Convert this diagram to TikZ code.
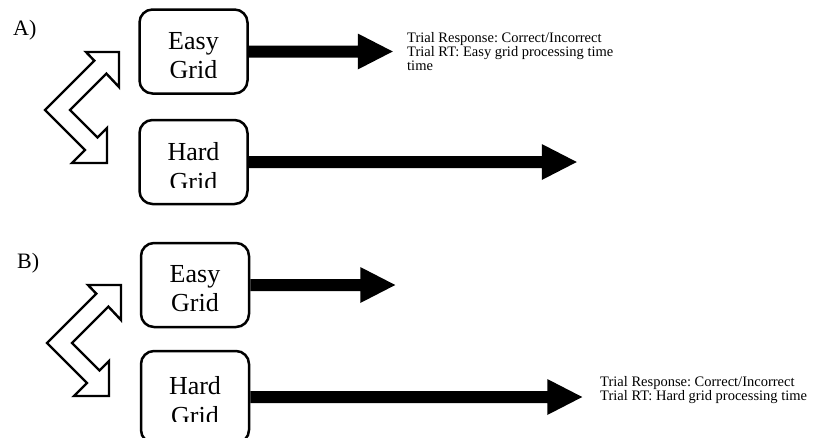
\documentclass[tikz,border=0pt]{standalone}
\usepackage{fontspec}
\setmainfont{Liberation Serif}
\frenchspacing
\usetikzlibrary{calc}

\tikzset{
  gridbox/.style={draw, line width=2.5pt, rounded corners=13pt,
    minimum width=108pt, minimum height=84pt, inner sep=0pt},
  gridtext/.style={anchor=north, inner sep=0pt, align=center,
    font=\fontsize{26}{29.5}\selectfont},
  outcome/.style={anchor=north west, inner sep=0pt, align=left,
    font=\fontsize{14.5}{14}\selectfont},
  panel/.style={anchor=base west, inner sep=0pt,
    font=\fontsize{22}{26}\selectfont},
  switcharrow/.style={draw, line width=2.4pt, fill=white, line join=miter},
}

% thick block arrow from a box anchor to a tip coordinate
\newcommand\fatarrow[2]{%
  \fill ($(#1)+(0,-6)$) -- ($(#2)+(-35,-6)$) -- ($(#2)+(-35,-18)$) -- (#2)
    -- ($(#2)+(-35,18)$) -- ($(#2)+(-35,6)$) -- ($(#1)+(0,6)$) -- cycle;}

% zig-zag double arrow (switch between the two grids)
\newcommand\switchshape{%
  \draw[switcharrow] (86,52) -- (119,52) -- (119,87) -- (106.4,73.6)
    -- (70,110) -- (97.5,137.5) -- (107,128) -- (107,163) -- (72,163)
    -- (85,150) -- (45,110) -- (94.3,60.7) -- cycle;}

\begin{document}
\begin{tikzpicture}[x=1pt, y=-1pt]
\useasboundingbox (0,0) rectangle (813,437);
\clip (0,0) rectangle (813,437);

% ---------------- panel A ----------------
\node[panel] (labA) at (13,35) {A)};
\switchshape

\node[gridbox] (easyA) at (193.5,51.5) {};
\node[gridbox] (hardA) at (193.5,162) {};

% box labels overflow their text area and are cut off at its lower edge
\begin{scope}
  \clip (easyA.north west) rectangle ($(easyA.north east)+(0,69)$);
  \node[gridtext] (easyAtext) at ($(easyA.north)+(0,24)$) {Easy\\Grid};
\end{scope}
\begin{scope}
  \clip (hardA.north west) rectangle ($(hardA.north east)+(0,69)$);
  \node[gridtext] (hardAtext) at ($(hardA.north)+(0,24)$) {Hard\\Grid};
\end{scope}

\coordinate (tipEasyA) at ($(easyA.east)+(144,0)$);
\coordinate (tipHardA) at ($(hardA.east)+(328,0)$);
\fatarrow{easyA.east}{tipEasyA}
\fatarrow{hardA.east}{tipHardA}

\node[outcome] (outA) at (407,32)
  {Trial Response: Correct/Incorrect\\Trial RT: Easy grid processing time\\time};

% ---------------- panel B ----------------
\node[panel] (labB) at (17,268) {B)};
\begin{scope}[shift={(2,233)}]
  \switchshape
\end{scope}

\node[gridbox] (easyB) at (195,285) {};
\node[gridbox, minimum height=92pt] (hardB) at (195,397) {};

\node[gridtext] (easyBtext) at ($(easyB.north)+(0,23.5)$) {Easy\\Grid};
\begin{scope}
  \clip (hardB.north west) rectangle ($(hardB.north east)+(0,72)$);
  \node[gridtext] (hardBtext) at ($(hardB.north)+(0,27)$) {Hard\\Grid};
\end{scope}

\coordinate (tipEasyB) at ($(easyB.east)+(145,0)$);
\coordinate (tipHardB) at ($(hardB.east)+(332,0)$);
\fatarrow{easyB.east}{tipEasyB}
\fatarrow{hardB.east}{tipHardB}

\node[outcome] (outB) at (600,376.5)
  {Trial Response: Correct/Incorrect\\Trial RT: Hard grid processing time};
\end{tikzpicture}
\end{document}
